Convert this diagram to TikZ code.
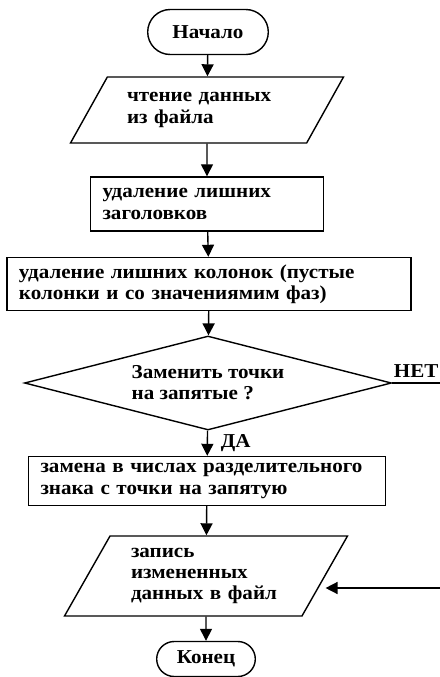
\documentclass[tikz,border=0pt]{standalone}
\usepackage{fontspec}
\setmainfont[FakeStretch=1.07]{Liberation Serif}
\usetikzlibrary{shapes.geometric,shapes.misc,arrows.meta}
\newcommand{\pxu}{0.025cm}
\begin{document}
\begin{tikzpicture}[x=0.025cm, y=-0.025cm, line width=1pt,
	>={Triangle[length=0.3cm,width=0.3cm]},
	font=\bfseries\fontsize{14}{15}\selectfont,
	term/.style={draw, rounded rectangle, minimum width=130*\pxu, minimum height=45*\pxu},
	io/.style={draw, trapezium, trapezium stretches body, align=left},
	proc/.style={draw, rectangle, align=left, inner xsep=12*\pxu},
	decide/.style={draw, diamond, shape aspect=3.9, align=left, inner sep=0pt}]
\useasboundingbox (0,0) rectangle (440,677);
\node[term] (start) at (208,32) {Начало};
\node[io, text width=160*\pxu, trapezium left angle=50, trapezium right angle=130, minimum width=273*\pxu, minimum height=66*\pxu] (read) at (207,110) {чтение данных\\из файла};
\node[proc, text width=209*\pxu, minimum height=54*\pxu] (heads) at (207,204) {удаление лишних\\заголовков};
\node[proc, text width=380*\pxu, minimum height=53*\pxu] (cols) at (209,284) {удаление лишних колонок (пустые\\колонки и со значениямим фаз)};
\node[decide, minimum width=367*\pxu, minimum height=94*\pxu] (check) at (208,383) {Заменить точки\\на запятые ?};
\node[proc, text width=333*\pxu, minimum height=49*\pxu] (repl) at (207,481) {замена в числах разделительного\\знака с точки на запятую};
\node[io, text width=150*\pxu, trapezium left angle=55, trapezium right angle=125, minimum width=283*\pxu, minimum height=80*\pxu] (write) at (206,576) {запись\\измененных\\данных в файл};
\node[term, minimum width=108*\pxu, minimum height=35*\pxu] (stop) at (206,659) {Конец};
\coordinate (no) at (440,383);
\coordinate (back) at (440,588);

\draw[->] (start) -- (read);
\draw[->] (read) -- (heads);
\draw[->] (heads) -- (cols);
\draw[->] (cols) -- (check);
\draw[->] (check) -- node[right=0.2cm] {ДА} (repl);
\draw (check.east) -- node[above] {НЕТ} (no);
\draw[->] (repl) -- (write);
\draw[->] (back) -- (write.east |- back);
\draw[->] (write) -- (stop);
\end{tikzpicture}
\end{document}
